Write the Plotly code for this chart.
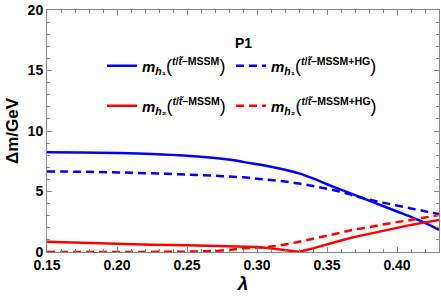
import plotly.graph_objects as go

lam = [0.15, 0.175, 0.20, 0.225, 0.25, 0.275, 0.29, 0.30, 0.31, 0.32, 0.33,
       0.34, 0.35, 0.36, 0.37, 0.38, 0.39, 0.40, 0.41, 0.42, 0.43]
mh1_mssm = [8.25, 8.23, 8.18, 8.10, 7.95, 7.70, 7.45, 7.25, 7.05, 6.80, 6.50,
            6.08, 5.60, 5.15, 4.70, 4.25, 3.80, 3.35, 2.90, 2.40, 1.82]
mh1_hg = [6.66, 6.63, 6.58, 6.50, 6.40, 6.27, 6.17, 6.05, 5.95, 5.82, 5.66,
          5.45, 5.22, 4.97, 4.63, 4.33, 4.08, 3.84, 3.60, 3.37, 3.13]
mh2_mssm = [0.84, 0.75, 0.67, 0.60, 0.55, 0.50, 0.47, 0.42, 0.30, 0.14, 0.02,
            0.30, 0.65, 0.95, 1.25, 1.50, 1.80, 2.02, 2.24, 2.45, 2.64]
mh2_hg = [0.00, 0.00, 0.00, 0.01, 0.03, 0.12, 0.30, 0.37, 0.45, 0.62, 0.85,
          1.10, 1.35, 1.60, 1.87, 2.05, 2.28, 2.47, 2.65, 2.85, 3.05]

x_ticks = [0.15, 0.20, 0.25, 0.30, 0.35, 0.40]
x_ticklabels = ["0.15", "0.20", "0.25", "0.30", "0.35", "0.40"]
y_ticks = [0, 5, 10, 15, 20]

BLUE = "#0000ff"
RED = "#ff0000"
FONT = "Liberation Sans"
DASH = "8px,5px"

def lbl(h, tag):
    return ("<b><i>m</i><sub><i>h</i>" + h + "</sub>"
            "<span style='font-size:18px;font-weight:normal'>(</span>"
            "<sup><i>t</i>/<i>t&#771;</i>–" + tag + "</sup>"
            "<span style='font-size:18px;font-weight:normal'>)</span></b>")

fig = go.Figure()
fig.add_trace(go.Scatter(x=lam, y=mh1_mssm, mode="lines", line=dict(color=BLUE, width=2.5, shape="spline"),
                         name=lbl("₁", "MSSM"), legend="legend"))
fig.add_trace(go.Scatter(x=lam, y=mh1_hg, mode="lines", line=dict(color=BLUE, width=2.5, dash=DASH, shape="spline"),
                         name=lbl("₁", "MSSM+HG"), legend="legend2"))
fig.add_trace(go.Scatter(x=lam, y=mh2_mssm, mode="lines", line=dict(color=RED, width=2.5),
                         name=lbl("₂", "MSSM"), legend="legend3"))
fig.add_trace(go.Scatter(x=lam, y=mh2_hg, mode="lines", line=dict(color=RED, width=2.5, dash=DASH, shape="spline"),
                         name=lbl("₂", "MSSM+HG"), legend="legend4"))

axis_common = dict(showline=True, linecolor="#888888", linewidth=1, mirror="allticks",
                   ticks="inside", ticklen=5, tickcolor="#888888", showgrid=False, zeroline=False,
                   automargin=False,
                   tickfont=dict(family=FONT, size=14, color="black", weight="bold"))

leg_common = dict(xanchor="left", yanchor="middle", bgcolor="rgba(0,0,0,0)",
                  font=dict(family=FONT, size=15, color="black"), itemwidth=30)

X1 = (102 - 47) / 392
X2 = (231 - 47) / 392
Y1 = (252 - 66) / 242
Y2 = (252 - 106) / 242

fig.update_layout(
    width=441, height=303,
    margin=dict(l=47, r=2, t=10, b=51),
    plot_bgcolor="white", paper_bgcolor="white",
    showlegend=True,
    legend=dict(x=X1, y=Y1, **leg_common),
    legend2=dict(x=X2, y=Y1, **leg_common),
    legend3=dict(x=X1, y=Y2, **leg_common),
    legend4=dict(x=X2, y=Y2, **leg_common),
    xaxis=dict(range=[0.15, 0.43], tickvals=x_ticks, ticktext=x_ticklabels,
               minor=dict(dtick=0.01, ticks="inside", ticklen=3, tickcolor="#888888"),
               title=dict(text="<b><i>λ</i></b>", font=dict(family=FONT, size=19, color="black"), standoff=4),
               **axis_common),
    yaxis=dict(range=[0, 20], tickvals=y_ticks,
               minor=dict(dtick=1, ticks="inside", ticklen=3, tickcolor="#888888"),
               title=dict(text="<b>Δm/GeV</b>", font=dict(family=FONT, size=17, color="black"), standoff=4),
               **axis_common),
    annotations=[dict(text="<b>P1</b>", x=(243 - 47) / 392, y=(252 - 33) / 242, xref="paper", yref="paper",
                      showarrow=False, font=dict(family=FONT, size=14, color="black"))],
)

fig.write_html("out.html", config={"displayModeBar": False},
               post_script="document.body.style.margin='0';document.body.style.padding='0';")
